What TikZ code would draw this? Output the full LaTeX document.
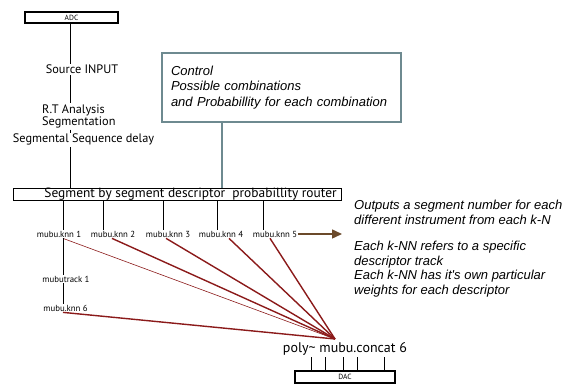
\documentclass[tikz,border=0pt]{standalone}
\usepackage{fontspec}
\setmainfont{PT Sans}
\newfontfamily\notefont{Liberation Sans}
\usetikzlibrary{arrows.meta}
\definecolor{ctrlgray}{HTML}{6E8A90}
\definecolor{knnred}{HTML}{8B1A1A}
\definecolor{outbrown}{HTML}{6B4A2A}
\tikzset{
  txt/.style={inner sep=1pt, font=\fontsize{12.3}{10.5}\selectfont},
  knn/.style={inner sep=1pt, font=\fontsize{8.8}{9}\selectfont},
  note/.style={inner sep=0pt, align=left, anchor=north west,
    font=\notefont\itshape\fontsize{13}{14.5}\selectfont},
  iobox/.style={draw, inner sep=0pt, font=\fontsize{7.5}{8}\selectfont},
  wire/.style={line width=1pt},
  redwire/.style={knnred, line width=1.4pt},
}
\begin{document}
\begin{tikzpicture}[x=1pt,y=-1pt]
\useasboundingbox (0,0) rectangle (568,387);

\def\SPINE{70}
	% input chain
	\node[iobox, line width=1.5pt, minimum width=93pt, minimum height=11pt] (adc) at (71.5,17.5) {ADC};
	\node[txt, anchor=base] (src) at (82,74) {Source INPUT};
	\node[txt, anchor=north west, align=left] (rt) at (41,103.5) {R.T Analysis\\Segmentation};
	\node[txt, anchor=base] (delay) at (83.5,143) {Segmental Sequence delay};
	\node[draw, line width=0.9pt, inner sep=0pt, minimum width=328pt, minimum height=12pt] (router) at (177,194) {};
	\node[inner sep=0pt, anchor=base, font=\fontsize{13.4}{14}\selectfont] (routertxt) at (190.5,198)
	      {Segment by segment descriptor\ \ probabillity router};

	\draw[wire] (adc.south -| \SPINE,0) -- (src.north -| \SPINE,0);
	\draw[wire] (src.south -| \SPINE,0) -- (rt.north -| \SPINE,0);
	\draw[wire] (rt.south -| \SPINE,0) -- (delay.north -| \SPINE,0);
	\draw[wire] (delay.south -| \SPINE,0) -- (router.north -| \SPINE,0);

	% control
	\node[draw=ctrlgray, line width=2pt, inner sep=9pt, text width=221pt, minimum height=69pt,
	      align=left, font=\notefont\itshape\fontsize{13}{15.5}\selectfont] (ctrl) at (281.5,87.5)
	      {Control\\Possible combinations\\and Probabillity for each combination};
	\draw[ctrlgray, line width=2pt] (ctrl.south -| 222,0) -- (router.north -| 222,0);

	% k-NN branches
	\coordinate (hub) at (335,339);
	\foreach \i/\lx/\x in {1/59/63, 2/113/103, 3/168/163, 4/221/217, 5/275/263} {
		\node[knn] (k\i) at (\lx,234) {mubu.knn \i};
		\draw[wire] (router.south -| \x,0) -- (k\i.north -| \x,0);
	}
	\foreach \i/\r in {2/112, 3/166, 4/229, 5/270}
		\draw[redwire] (k\i.south -| \r,0) -- (hub);
	\draw[knnred, line width=0.6pt] (k1.south -| 63,0) -- (hub);

	\node[knn] (track) at (66,279) {mubutrack 1};
	\node[knn] (k6) at (65.5,308) {mubu.knn 6};
	\draw[wire] (k1.south -| 63,0) -- (track.north -| 63,0);
	\draw[wire] (track.south -| 63,0) -- (k6.north -| 63,0);
	\draw[redwire] (k6.south -| 63,0) -- (hub);

	% output
	\coordinate (outend) at (342,234);
	\draw[outbrown, line width=1.5pt, -{Triangle[length=10pt,width=9pt]}] (k5.east) -- (outend);
	\node[note] (note1) at (354,200) {Outputs a segment number for each\\different instrument from each k-N};
	\node[note] (note2) at (354,241) {Each k-NN refers to a specific\\descriptor track\\Each k-NN has it's own particular\\weights for each descriptor};

	\node[inner sep=1pt, anchor=base, font=\fontsize{14}{15}\selectfont] (concat) at (345,353) {poly\textasciitilde{} mubu.concat 6};
	\node[iobox, line width=2.5pt, minimum width=100pt, minimum height=12pt] (dac) at (345,377) {DAC};
	\foreach \x in {311,325,343,357,384}
		\draw[wire] (concat.south -| \x,0) -- (dac.north -| \x,0);

\end{tikzpicture}
\end{document}
